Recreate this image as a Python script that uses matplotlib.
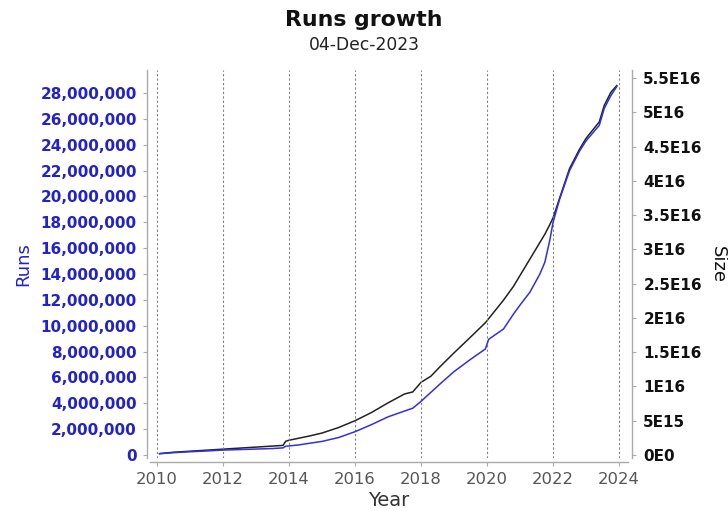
import matplotlib
matplotlib.use("Agg")
import matplotlib.pyplot as plt
from matplotlib.ticker import FuncFormatter

# cumulative totals, sampled along the timeline (decimal years)
years = [2010.08, 2010.5, 2011.0, 2011.5, 2012.0, 2012.5, 2013.0, 2013.5, 2013.82,
         2013.9, 2014.0, 2014.3, 2014.6, 2015.0, 2015.5, 2016.0, 2016.5, 2017.0,
         2017.5, 2017.75, 2018.0, 2018.3, 2018.6, 2019.0, 2019.5, 2019.95, 2020.05,
         2020.5, 2020.8, 2021.0, 2021.3, 2021.6, 2021.75, 2021.9, 2022.0, 2022.2,
         2022.5, 2022.8, 2023.0, 2023.3, 2023.4, 2023.55, 2023.75, 2023.93]

runs = [100_000, 180_000, 250_000, 310_000, 380_000, 420_000, 460_000, 500_000, 550_000,
        680_000, 700_000, 780_000, 900_000, 1_050_000, 1_350_000, 1_800_000, 2_350_000,
        2_950_000, 3_400_000, 3_620_000, 4_150_000, 4_850_000, 5_550_000, 6_450_000,
        7_400_000, 8_200_000, 8_950_000, 9_750_000, 10_900_000, 11_600_000, 12_600_000,
        14_000_000, 14_900_000, 16_600_000, 18_000_000, 19_800_000, 22_000_000,
        23_500_000, 24_300_000, 25_200_000, 25_500_000, 26_800_000, 27_800_000,
        28_500_000]

size = [0.2e15, 0.4e15, 0.55e15, 0.7e15, 0.85e15, 1.0e15, 1.15e15, 1.3e15, 1.4e15,
        2.0e15, 2.15e15, 2.45e15, 2.75e15, 3.2e15, 4.0e15, 5.0e15, 6.2e15, 7.6e15,
        8.9e15, 9.2e15, 10.6e15, 11.5e15, 13.0e15, 14.9e15, 17.2e15, 19.3e15, 19.9e15,
        22.6e15, 24.6e15, 26.2e15, 28.6e15, 31.0e15, 32.2e15, 33.6e15, 34.6e15,
        37.5e15, 41.8e15, 44.6e15, 46.2e15, 48.0e15, 48.6e15, 51.0e15, 52.9e15, 53.9e15]

year_ticks = list(range(2010, 2025, 2))
runs_ticks = list(range(0, 28_000_001, 2_000_000))
size_ticks = [i * 5e15 for i in range(12)]

BLUE = "#2222cc"
LINE_BLUE = "#3030e0"
AXIS_GRAY = "#aaaaaa"


def sci_label(v, pos=None):
    # Java-style "0.###E0" formatting
    if v == 0:
        return "0E0"
    exp = 0
    m = v
    while abs(m) >= 10:
        m /= 10
        exp += 1
    m = round(m, 3)
    return "%sE%d" % ("%g" % m, exp)


fig = plt.figure(figsize=(7.28, 5.11), dpi=100)
ax = fig.add_axes([150 / 728, 1 - 458 / 511, 478 / 728, 388 / 511])
ax2 = ax.twinx()

ax.plot(years, runs, color=LINE_BLUE, lw=1.1)
ax2.plot(years, size, color="#222222", lw=1.1)

# keep the runs line above the size line
ax.set_zorder(ax2.get_zorder() + 1)
ax.patch.set_visible(False)

ax.set_xlim(2009.79, 2024.27)
ax.set_ylim(-232_000, 29_780_000)
ax2.set_ylim(-4.4e14, 5.617e16)

ax.set_xticks(year_ticks)
ax.set_yticks(runs_ticks)
ax2.set_yticks(size_ticks)
ax.yaxis.set_major_formatter(FuncFormatter(lambda v, p: "{:,}".format(int(v))))
ax2.yaxis.set_major_formatter(FuncFormatter(sci_label))

for a in (ax, ax2):
    a.spines["top"].set_visible(False)
    for side in ("left", "right", "bottom"):
        a.spines[side].set_color(AXIS_GRAY)
        a.spines[side].set_linewidth(1.0)
ax.spines["right"].set_visible(False)
ax2.spines["left"].set_visible(False)
ax2.spines["bottom"].set_visible(False)
ax.spines["left"].set_position(("outward", 2.5))
ax.spines["bottom"].set_position(("outward", 3))
ax2.spines["right"].set_position(("outward", 3))

ax.tick_params(axis="y", colors=AXIS_GRAY, labelcolor=BLUE, length=3, pad=4,
               labelsize=11)
ax.tick_params(axis="x", colors=AXIS_GRAY, labelcolor="#555555", length=3, pad=4,
               labelsize=11.8)
ax2.tick_params(axis="y", colors=AXIS_GRAY, labelcolor="#111111", length=3, pad=5,
                labelsize=11)
for lbl in ax.get_yticklabels() + ax2.get_yticklabels():
    lbl.set_fontweight("bold")

ax.grid(axis="x", color="#808080", linestyle=(0, (2, 2)), linewidth=0.8)
ax.grid(axis="y", visible=False)
ax2.grid(False)

ax.set_xlabel("Year", fontsize=14, color="#333333", labelpad=3)
ax.set_ylabel("Runs", fontsize=13, color=BLUE, labelpad=6)
ax2.set_ylabel("Size", fontsize=13, color="#111111", rotation=270, labelpad=18)

fig.text(0.5, 1 - 20 / 511, "Runs growth", ha="center", va="center",
         fontsize=15.8, fontweight="bold", color="#111111")
fig.text(0.5, 1 - 45 / 511, "04-Dec-2023", ha="center", va="center",
         fontsize=12.3, color="#222222")

fig.savefig("out.png", dpi=100)
